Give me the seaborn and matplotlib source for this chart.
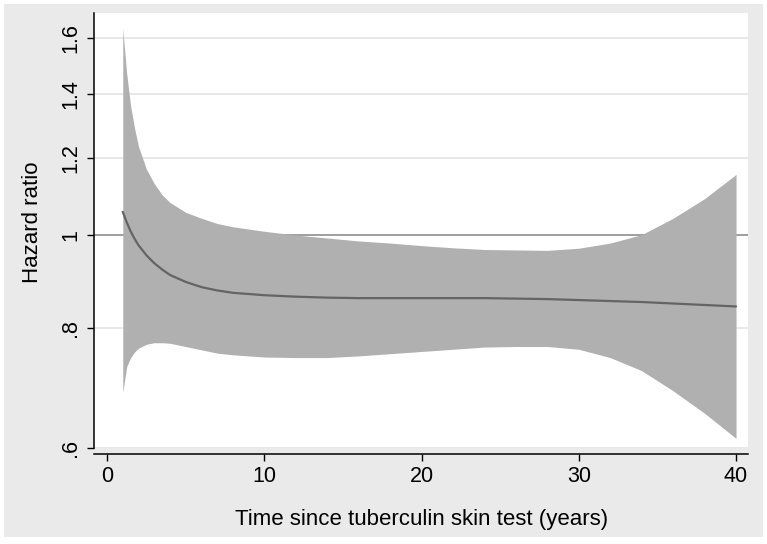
import matplotlib
matplotlib.use("Agg")
import matplotlib.pyplot as plt
import seaborn as sns
import pandas as pd
import numpy as np
from matplotlib.patches import Rectangle
from matplotlib.ticker import FixedLocator, FixedFormatter, NullLocator

# ---- data ----
years = [1, 1.25, 1.5, 1.75, 2, 2.5, 3, 3.5, 4, 5, 6, 7, 8, 10, 12, 14, 16, 18,
         20, 22, 24, 26, 28, 30, 32, 34, 36, 38, 40]
hazard_ratio = [1.056, 1.030, 1.008, 0.990, 0.975, 0.952, 0.934, 0.920, 0.908,
                0.893, 0.882, 0.875, 0.870, 0.865, 0.862, 0.860, 0.859, 0.859,
                0.859, 0.859, 0.859, 0.858, 0.857, 0.855, 0.853, 0.851, 0.848,
                0.845, 0.842]
upper_ci = [1.638, 1.47, 1.36, 1.29, 1.235, 1.170, 1.130, 1.100, 1.080, 1.055,
            1.040, 1.027, 1.019, 1.008, 0.999, 0.992, 0.985, 0.980, 0.974,
            0.969, 0.965, 0.964, 0.963, 0.968, 0.980, 1.000, 1.040, 1.090, 1.155]
lower_ci = [0.685, 0.729, 0.745, 0.755, 0.762, 0.769, 0.772, 0.772, 0.771,
            0.765, 0.759, 0.753, 0.750, 0.746, 0.745, 0.745, 0.748, 0.752,
            0.756, 0.760, 0.764, 0.765, 0.765, 0.760, 0.745, 0.722, 0.688,
            0.652, 0.614]
x_ticks = [0, 10, 20, 30, 40]
y_ticks = [0.6, 0.8, 1.0, 1.2, 1.4, 1.6]
y_tick_labels = [".6", ".8", "1", "1.2", "1.4", "1.6"]
x_label = "Time since tuberculin skin test (years)"
y_label = "Hazard ratio"

df = pd.DataFrame({"t": years, "hr": hazard_ratio, "lo": lower_ci, "hi": upper_ci})

sns.set_theme(style="white")
plt.rcParams["font.family"] = ["Liberation Sans", "DejaVu Sans"]

W, H = 767, 544
fig = plt.figure(figsize=(W / 100, H / 100), dpi=100, facecolor="white")
bg = Rectangle((4 / W, 7 / H), (763 - 4) / W, (537 - 4) / H,
               transform=fig.transFigure, facecolor="#eaeaea",
               edgecolor="none", zorder=-10)
fig.add_artist(bg)

ax = fig.add_axes([94 / W, (H - 448) / H, (748 - 94) / W, (448 - 13) / H])
ax.set_zorder(1)
ax.set_facecolor("white")
ax.set_yscale("log")
ax.set_xlim(-0.83, 40.76)
ax.set_ylim(0.6, 1.70)

# gridlines
for yv in y_ticks:
    if yv != 1.0:
        ax.axhline(yv, color="#e6e6e6", lw=1.3, zorder=1)
# reference line at 1
ax.axhline(1.0, color="#858585", lw=1.1, zorder=2)

ax.fill_between(df["t"], df["lo"], df["hi"], color="#b0b0b0", linewidth=0, zorder=3)
sns.lineplot(data=df, x="t", y="hr", ax=ax, color="#646464", lw=1.6, zorder=4)

ax.yaxis.set_major_locator(FixedLocator(y_ticks))
ax.yaxis.set_major_formatter(FixedFormatter(y_tick_labels))
ax.yaxis.set_minor_locator(NullLocator())
ax.set_xticks(x_ticks)
ax.set_xticklabels([str(v) for v in x_ticks])

for s in ["top", "right"]:
    ax.spines[s].set_visible(False)
for s in ["left", "bottom"]:
    ax.spines[s].set_color("black")
    ax.spines[s].set_linewidth(1.1)
ax.spines["bottom"].set_position(("outward", 4))

ax.tick_params(axis="both", which="major", direction="out", length=5, width=1,
               color="black", labelsize=15.5, labelcolor="black", pad=4, left=True, bottom=True)
for lbl in ax.get_yticklabels():
    lbl.set_rotation(90)
    lbl.set_va("center")

ax.set_xlabel(x_label, fontsize=16, color="black")
ax.set_ylabel(y_label, fontsize=16, color="black")
ax.xaxis.set_label_coords((422 - 94) / (748 - 94), -(519 - 448) / (448 - 13))
ax.xaxis.label.set_va("center")
ax.yaxis.set_label_coords(-(94 - 32) / (748 - 94), (448 - 222) / (448 - 13))
ax.yaxis.label.set_va("center")

fig.savefig("out.png", dpi=100, facecolor="white")
